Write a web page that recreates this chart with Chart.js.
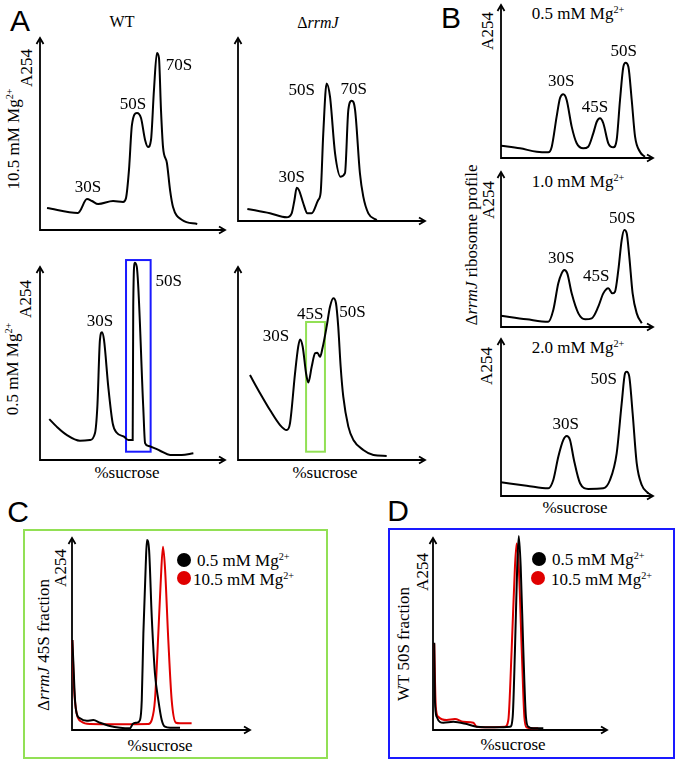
<!DOCTYPE html>
<html><head><meta charset="utf-8">
<script src="https://cdn.jsdelivr.net/npm/chart.js@4.4.0/dist/chart.umd.min.js"></script>
<style>
body{margin:0;width:677px;height:761px;background:#fff;position:relative;overflow:hidden;font-family:"Liberation Serif","Times New Roman",serif;}
.t{position:absolute;white-space:nowrap;line-height:1;transform:translate(-50%,-50%);color:#000;font-size:17px}
.r{transform:translate(-50%,-50%) rotate(-90deg)}
.L{font-family:"Liberation Sans",Arial,sans-serif;font-size:30px}
.lg{position:absolute;white-space:nowrap;line-height:1;transform:translateY(-50%);font-size:17px}
sup{font-size:0.6em;vertical-align:baseline;position:relative;top:-0.6em}
canvas{position:absolute}
.frame{position:absolute;box-sizing:border-box;border:2px solid}
.dot{position:absolute;width:14px;height:14px;border-radius:50%;transform:translate(-50%,-50%)}
</style>
</head><body>
<div class="frame" style="left:23px;top:529px;width:305px;height:230px;border-color:#92e055"></div>
<div class="frame" style="left:388px;top:528px;width:287px;height:231px;border-color:#1a1aff"></div>

<div class="t L" style="left:20px;top:21px">A</div>
<div class="t L" style="left:451px;top:18px">B</div>
<div class="t L" style="left:18px;top:512px">C</div>
<div class="t L" style="left:398px;top:511px">D</div>

<div class="t" style="left:122px;top:22px;font-size:16px">WT</div>
<div class="t" style="left:318px;top:23px;font-size:16px">Δ<i>rrmJ</i></div>
<div class="t r" style="left:13px;top:139px">10.5 mM Mg<sup>2+</sup></div>
<div class="t r" style="left:26px;top:68px">A254</div>
<div class="t r" style="left:12px;top:369px">0.5 mM Mg<sup>2+</sup></div>
<div class="t r" style="left:25px;top:299px">A254</div>
<div class="t" style="left:127px;top:472px">%sucrose</div>
<div class="t" style="left:325px;top:472px">%sucrose</div>

<div class="t" style="left:578px;top:13px">0.5 mM Mg<sup>2+</sup></div>
<div class="t" style="left:578px;top:181px">1.0 mM Mg<sup>2+</sup></div>
<div class="t" style="left:578px;top:347px">2.0 mM Mg<sup>2+</sup></div>
<div class="t r" style="left:487px;top:31px">A254</div>
<div class="t r" style="left:488px;top:200px">A254</div>
<div class="t r" style="left:486px;top:366px">A254</div>
<div class="t r" style="left:471px;top:245px">Δ<i>rrmJ</i> ribosome profile</div>
<div class="t" style="left:575px;top:507px">%sucrose</div>

<div class="t r" style="left:60px;top:568px">A254</div>
<div class="t r" style="left:43px;top:645px">Δ<i>rrmJ</i> 45S fraction</div>
<div class="t" style="left:160px;top:745px">%sucrose</div>
<div class="dot" style="left:184px;top:560px;background:#000"></div>
<div class="lg" style="left:197px;top:560px">0.5 mM Mg<sup>2+</sup></div>
<div class="dot" style="left:184px;top:578px;background:#e00000"></div>
<div class="lg" style="left:193px;top:579px">10.5 mM Mg<sup>2+</sup></div>

<div class="t r" style="left:422px;top:572px">A254</div>
<div class="t r" style="left:403px;top:644px">WT 50S fraction</div>
<div class="t" style="left:513px;top:744px">%sucrose</div>
<div class="dot" style="left:539px;top:559px;background:#000"></div>
<div class="lg" style="left:552px;top:559px">0.5 mM Mg<sup>2+</sup></div>
<div class="dot" style="left:538px;top:578px;background:#e00000"></div>
<div class="lg" style="left:551px;top:579px">10.5 mM Mg<sup>2+</sup></div>

<script>
// ---- data (x: relative %sucrose position 0-100, y: relative A254 0-100) ----
const wtHighX = [3.8,20.5,21.6,25.4,28.1,31.4,39.5,44.9,46.5,48.1,49.7,52.4,54.6,56.8,58.4,60.0,61.6,63.2,64.3,65.4,66.5,68.6,70.3,71.9,76.8,85.0];
const wtHighY = [11.5,8.9,9.9,16.1,15.1,13.5,15.1,14.6,16.7,31.3,54.7,60.9,58.3,46.9,43.2,46.9,72.9,92.2,89.6,62.5,43.2,34.9,20.8,12.0,5.2,3.1];

const rrmHighX = [5.0,17.1,26.0,28.7,30.2,31.4,32.6,34.9,37.1,39.4,42.9,44.2,45.6,47.4,49.2,51.9,54.9,57.2,59.0,60.8,62.6,65.2,67.0,69.7,74.2];
const rrmHighY = [6.6,4.2,2.0,4.2,11.5,18.2,16.9,9.7,4.2,4.2,11.5,15.5,47.9,75.2,67.9,37.0,24.2,26.1,60.7,65.7,60.7,26.1,13.3,4.2,0.5];

const wtLowX = [5.0,9.0,14.4,21.6,27.0,29.7,31.0,32.4,33.5,34.6,36.9,39.3,41.5,45.4,47.7,50.1,50.4,51.2,52.3,55.8,56.8,58.5,64.9,70.3,76.6,82.9];
const wtLowY = [21.2,17.3,13.0,10.0,10.4,13.8,27.6,62.2,66.2,62.2,38.0,19.0,14.1,12.1,10.4,10.4,79.4,102.2,100.2,27.6,8.7,7.3,4.8,2.6,2.6,3.5];

const rrmLowX = [6.4,11.8,17.1,22.5,26.0,27.8,30.5,32.2,33.2,34.6,36.4,37.6,39.4,41.2,42.4,43.9,45.2,47.4,49.2,51.0,52.4,53.6,54.9,56.3,59.0,61.7,67.0,72.4,79.5];
const rrmLowY = [44.0,34.6,25.9,18.1,15.5,19.0,44.9,58.7,62.5,58.7,44.9,40.1,48.3,55.3,55.6,53.5,58.0,69.1,79.4,83.8,81.2,69.1,48.3,32.8,17.3,10.4,5.2,2.6,2.1];

const mg05X = [0,12.5,23.5,31.1,33.4,36.6,38.8,41.0,43.2,46.5,49.8,54.1,57.4,60.7,63.0,65.1,67.3,70.6,73.9,76.1,78.3,80.5,82.0,83.8,86.0,88.2,91.4,94.7];
const mg05Y = [8.0,6.3,4.1,3.7,7.4,27.0,39.0,41.6,37.9,20.5,9.6,6.3,7.4,16.1,23.7,25.9,22.7,9.6,7.0,11.8,37.9,59.7,62.3,59.7,37.9,13.9,4.1,0.8];

const mg10X = [0,16.9,31.1,34.4,37.7,39.9,41.6,43.6,46.5,50.9,55.3,59.7,64.0,67.3,70.6,73.2,75.0,77.2,79.4,81.1,82.7,84.4,86.6,89.3,92.6];
const mg10Y = [7.3,5.0,3.4,11.0,28.2,34.6,36.8,34.6,21.7,8.8,5.0,5.6,13.1,21.7,25.0,21.7,22.8,36.8,56.1,62.6,60.5,45.4,21.7,8.8,2.4];

const mg20X = [0,16.9,31.1,34.4,37.7,41.0,43.2,45.4,48.0,52.0,57.4,67.3,71.7,76.1,79.4,81.6,82.7,84.4,86.6,89.3,92.6,96.9];
const mg20Y = [8.7,6.6,4.9,10.2,25.0,35.7,38.2,35.7,22.9,8.1,4.5,4.9,10.2,27.2,59.0,78.2,79.2,76.0,52.7,20.8,7.0,1.7];

const frac45LowX = [0.2,0.7,1.7,2.6,4.5,8.3,12.0,15.7,21.3,27.0,32.6,34.1,36.3,38.2,39.2,40.1,41.4,42.1,43.3,44.8,46.6,48.5,50.4,52.2,55.1,60.7];
const frac45LowY = [46.9,36.5,15.6,8.7,6.1,4.8,5.2,3.8,2.1,1.2,0.9,3.1,3.8,5.2,15.6,50.4,85.1,99.0,93.8,59.0,29.5,15.6,5.2,1.7,1.2,1.2];
const frac45HighX = [0.2,1.1,2.6,5.4,10.1,25.1,42.9,44.8,46.6,48.5,49.8,51.1,52.2,54.1,56.0,58.4,60.7,67.2];
const frac45HighY = [46.9,22.6,8.7,4.3,3.1,3.0,3.1,5.2,15.6,50.4,76.4,95.5,85.1,46.9,15.6,3.8,3.5,3.5];

const frac50LowX = [0.7,1.1,2.1,5.9,11.7,19.4,25.1,36.6,44.3,45.8,47.1,48.4,49.3,50.4,51.9,53.4,54.8,57.6,63.4];
const frac50LowY = [45.5,15.6,6.9,3.8,4.3,3.1,1.7,1.4,1.7,6.9,41.7,85.1,101.0,85.1,41.7,6.9,1.7,0.9,0.9];
const frac50HighX = [0.7,1.6,3.0,7.9,12.6,17.4,23.2,25.1,30.9,41.4,43.3,45.2,47.1,48.1,49.3,51.0,52.5,53.8,56.7,60.5];
const frac50HighY = [45.1,12.1,6.9,5.2,5.7,4.3,3.8,1.7,1.4,1.7,5.2,41.7,85.1,97.2,85.1,41.7,6.9,1.4,0.9,0.9];

// fraction windows collected (x range, y range)
const wt50sWindowX = [46.5,59.8];
const wt50sWindowY = [4.3,103.6];
const rrm45sWindowX = [36.4,46.5];
const rrm45sWindowY = [4.3,71.5];

// ---- rendering ----
const pts = (xs, ys) => xs.map((x, i) => ({x, y: ys[i]}));

const profilePlugin = {
  id: 'profile',
  beforeDatasetsDraw(chart, args, opts) {
    const {ctx, chartArea: a, scales: {x, y}} = chart;
    ctx.save();
    (opts.rects || []).forEach(r => {
      ctx.strokeStyle = r.color; ctx.lineWidth = 2;
      const x1 = x.getPixelForValue(r.xs[0]), x2 = x.getPixelForValue(r.xs[1]);
      const y1 = y.getPixelForValue(r.ys[1]), y2 = y.getPixelForValue(r.ys[0]);
      ctx.strokeRect(x1, y1, x2 - x1, y2 - y1);
    });
    ctx.strokeStyle = '#000'; ctx.lineWidth = 1.8;
    ctx.beginPath();
    ctx.moveTo(a.left, a.top); ctx.lineTo(a.left, a.bottom); ctx.lineTo(a.right, a.bottom);
    ctx.stroke();
    ctx.beginPath();
    ctx.moveTo(a.left - 3.5, a.top + 6); ctx.lineTo(a.left, a.top); ctx.lineTo(a.left + 3.5, a.top + 6);
    ctx.moveTo(a.right - 6, a.bottom - 3.5); ctx.lineTo(a.right, a.bottom); ctx.lineTo(a.right - 6, a.bottom + 3.5);
    ctx.stroke();
    ctx.restore();
  },
  afterDatasetsDraw(chart, args, opts) {
    const {ctx} = chart;
    ctx.save();
    ctx.fillStyle = '#000';
    ctx.font = '17px "Liberation Serif", "Times New Roman", serif';
    ctx.textAlign = 'center'; ctx.textBaseline = 'middle';
    (opts.labels || []).forEach(l => {
      const el = chart.getDatasetMeta(l.ds || 0).data[l.i];
      ctx.fillText(l.text, el.x + l.dx, el.y + l.dy);
    });
    ctx.restore();
  }
};

function profile(box, series, labels, rects) {
  const pad = 12;
  const c = document.createElement('canvas');
  const w = box.r - box.l + 2 * pad, h = box.b - box.t + 2 * pad;
  c.width = w; c.height = h;
  c.style.left = (box.l - pad) + 'px'; c.style.top = (box.t - pad) + 'px';
  c.style.width = w + 'px'; c.style.height = h + 'px';
  document.body.appendChild(c);
  new Chart(c, {
    type: 'line',
    data: {
      datasets: series.map(s => ({
        data: pts(s.x, s.y), borderColor: s.color || '#000', borderWidth: 2,
        pointRadius: 0, tension: 0.4, cubicInterpolationMode: 'monotone', clip: false, fill: false
      }))
    },
    options: {
      responsive: false, animation: false, devicePixelRatio: 1,
      layout: {padding: pad},
      scales: {
        x: {type: 'linear', min: 0, max: 100, display: false},
        y: {type: 'linear', min: 0, max: 100, display: false}
      },
      plugins: {legend: {display: false}, tooltip: {enabled: false}, profile: {labels: labels || [], rects: rects || []}}
    },
    plugins: [profilePlugin]
  });
}

profile({l:40,t:38,r:225,b:230}, [{x: wtHighX, y: wtHighY}],
  [{text:'30S', i:3, dx:1, dy:-12}, {text:'50S', i:11, dx:-4, dy:-9}, {text:'70S', i:17, dx:22, dy:13}]);
profile({l:238,t:38,r:425,b:221}, [{x: rrmHighX, y: rrmHighY}],
  [{text:'30S', i:5, dx:-5, dy:-10}, {text:'50S', i:13, dx:-25, dy:7}, {text:'70S', i:19, dx:2, dy:-11}]);
profile({l:40,t:267,r:225,b:460}, [{x: wtLowX, y: wtLowY}],
  [{text:'30S', i:8, dx:-2, dy:-11}, {text:'50S', i:17, dx:34, dy:19}],
  [{xs: wt50sWindowX, ys: wt50sWindowY, color: '#1a1aff'}]);
profile({l:238,t:267,r:425,b:460}, [{x: rrmLowX, y: rrmLowY}],
  [{text:'30S', i:8, dx:-24, dy:-3}, {text:'45S', i:14, dx:-7, dy:-38}, {text:'50S', i:19, dx:19, dy:14}],
  [{xs: rrm45sWindowX, ys: rrm45sWindowY, color: '#92e055'}]);
profile({l:501,t:5,r:653,b:158}, [{x: mg05X, y: mg05Y}],
  [{text:'30S', i:7, dx:-2, dy:-13}, {text:'45S', i:15, dx:-5, dy:-11}, {text:'50S', i:22, dx:-2, dy:-11}]);
profile({l:501,t:172,r:653,b:327}, [{x: mg10X, y: mg10Y}],
  [{text:'30S', i:6, dx:-3, dy:-11}, {text:'45S', i:14, dx:-12, dy:-12}, {text:'50S', i:19, dx:-2, dy:-11}]);
profile({l:501,t:339,r:653,b:496}, [{x: mg20X, y: mg20Y}],
  [{text:'30S', i:6, dx:-1, dy:-11}, {text:'50S', i:16, dx:-23, dy:8}]);
profile({l:72,t:538,r:250,b:730}, [{x: frac45LowX, y: frac45LowY}, {x: frac45HighX, y: frac45HighY, color: '#e00000'}]);
profile({l:433,t:538,r:607,b:730}, [{x: frac50LowX, y: frac50LowY}, {x: frac50HighX, y: frac50HighY, color: '#e00000'}]);
</script>
</body></html>
